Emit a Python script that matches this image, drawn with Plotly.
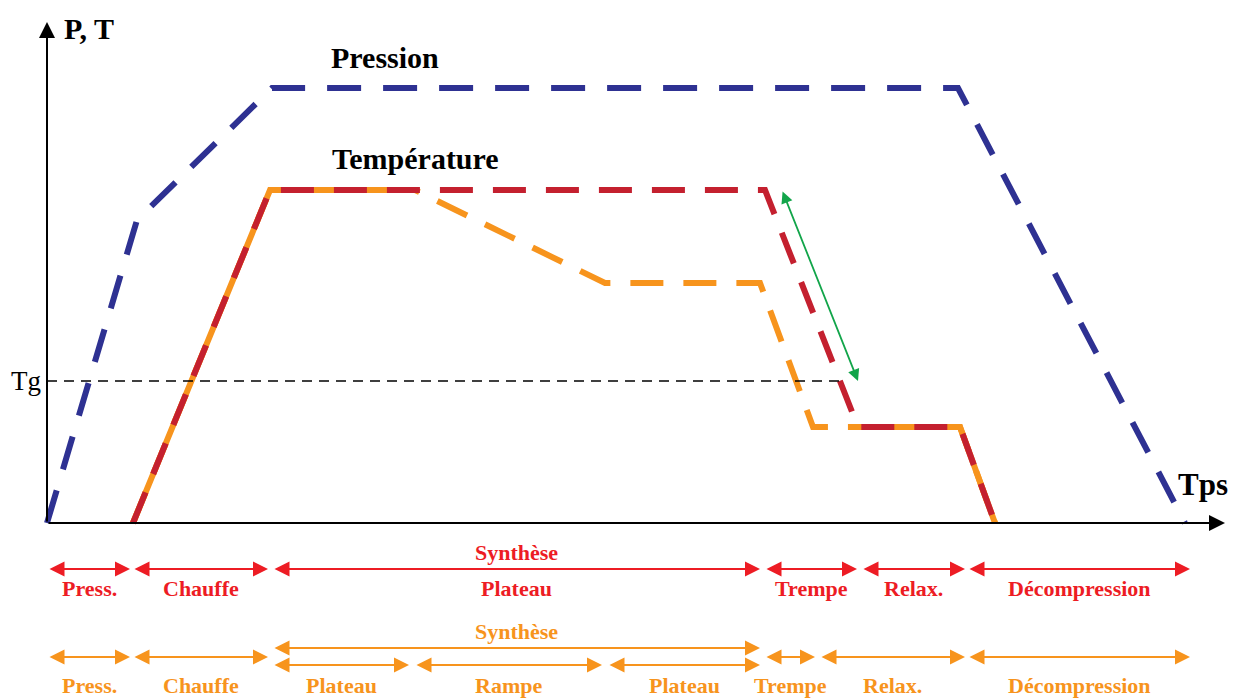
import plotly.graph_objects as go

# ---- data (time in arbitrary units, value in arbitrary units) ----
p_t = [0, 90, 225, 911, 1138]
p_v = [0, 303, 435, 435, 0]

red_t = [86, 223, 718, 811, 913, 948]
red_v = [0, 333, 333, 96, 96, 0]

ora_t = [86, 223, 368, 558, 713, 766, 913, 948]
ora_v = [0, 333, 333, 240, 240, 96, 96, 0]

ora_shared1_t = [86, 223, 368]
ora_shared1_v = [0, 333, 333]
ora_shared2_t = [811, 913, 948]
ora_shared2_v = [96, 96, 0]

tg_value = 142
tg_end = 793

green_start = (735, 333)
green_end = (811, 142)

red_phases = [(1, 83, "Press."), (86, 221, "Chauffe"), (226, 713, "Plateau"),
              (718, 810, "Trempe"), (815, 918, "Relax."), (921, 1143, "Décompression")]
red_synth = (226, 713, "Synthèse")

ora_phases = [(1, 83, "Press."), (86, 221, "Chauffe"), (718, 768, "Trempe"),
              (773, 918, "Relax."), (921, 1143, "Décompression")]
ora_sub = [(226, 362, "Plateau"), (368, 555, "Rampe"), (561, 713, "Plateau")]
ora_synth = (226, 713, "Synthèse")

BLUE = "#2e3192"
DRED = "#c4202f"
ORANGE = "#f7941d"
RED = "#ed1c24"
GREEN = "#12a54a"
FONT = "Liberation Serif"

fig = go.Figure()

fig.add_trace(go.Scatter(x=p_t, y=p_v, mode="lines",
                         line=dict(color=BLUE, width=6, dash="34px,22px")))
fig.add_trace(go.Scatter(x=ora_t, y=ora_v, mode="lines",
                         line=dict(color=ORANGE, width=6, dash="33px,20px")))
for tt, vv in [(ora_shared1_t, ora_shared1_v), (ora_shared2_t, ora_shared2_v)]:
    fig.add_trace(go.Scatter(x=tt, y=vv, mode="lines",
                             line=dict(color=ORANGE, width=6)))
fig.add_trace(go.Scatter(x=red_t, y=red_v, mode="lines",
                         line=dict(color=DRED, width=6, dash="33px,20px")))
fig.add_trace(go.Scatter(x=[0, tg_end], y=[tg_value, tg_value], mode="lines",
                         line=dict(color="black", width=1.5, dash="10px,7px")))

ann = []

def arrow(x0, x1, y, color, width=2, size=1.5):
    ann.append(dict(x=x1, y=y, ax=x0, ay=y, xref="x", yref="y", axref="x", ayref="y",
                    text="", showarrow=True, arrowhead=2, arrowsize=size,
                    arrowwidth=width, arrowcolor=color,
                    arrowside="end+start", startarrowhead=2,
                    startarrowsize=size, standoff=0, startstandoff=0))

def label(x, y, txt, color, size=22):
    ann.append(dict(x=x, y=y, xref="x", yref="y", text="<b>%s</b>" % txt, showarrow=False,
                    font=dict(family=FONT, size=size, color=color)))

# axes
ann.append(dict(x=0, y=501, ax=0, ay=0, xref="x", yref="y", axref="x", ayref="y",
                text="", showarrow=True, arrowhead=2, arrowsize=1.6, arrowwidth=2,
                arrowcolor="black", standoff=0))
ann.append(dict(x=1178, y=0, ax=0, ay=0, xref="x", yref="y", axref="x", ayref="y",
                text="", showarrow=True, arrowhead=2, arrowsize=1.6, arrowwidth=2,
                arrowcolor="black", standoff=0))

# green arrow
ann.append(dict(x=green_end[0], y=green_end[1], ax=green_start[0], ay=green_start[1],
                xref="x", yref="y", axref="x", ayref="y", text="", showarrow=True,
                arrowhead=2, arrowsize=1.3, arrowwidth=1.8, arrowcolor=GREEN,
                arrowside="end+start", startarrowhead=2, startarrowsize=1.3,
                standoff=0, startstandoff=0))

# red row
for a, b, txt in red_phases:
    arrow(a, b, -46, RED)
    label((a + b) / 2, -65, txt, RED)
label((red_synth[0] + red_synth[1]) / 2, -29, red_synth[2], RED)

# orange row
for a, b, txt in ora_phases:
    arrow(a, b, -134, ORANGE)
    label((a + b) / 2, -162, txt, ORANGE)
arrow(ora_synth[0], ora_synth[1], -125, ORANGE)
label((ora_synth[0] + ora_synth[1]) / 2, -108, ora_synth[2], ORANGE)
for a, b, txt in ora_sub:
    arrow(a, b, -142, ORANGE)
    label((a + b) / 2, -162, txt, ORANGE)

# titles
label(42, 495, "P, T", "black", 30)
label(338, 466, "Pression", "black", 30)
label(368, 365, "Température", "black", 30)
label(1156, 39, "Tps", "black", 31)
ann.append(dict(x=-4, y=tg_value, xref="x", yref="y", text="Tg", showarrow=False,
                xanchor="right", font=dict(family=FONT, size=27, color="black")))

fig.update_layout(
    width=1235, height=698, margin=dict(l=0, r=0, t=0, b=0),
    plot_bgcolor="white", paper_bgcolor="white", showlegend=False,
    xaxis=dict(range=[-47, 1188], visible=False, fixedrange=True),
    yaxis=dict(range=[-175, 523], visible=False, fixedrange=True),
    annotations=ann,
)

fig.write_html("out.html", config={"displayModeBar": False},
               post_script="document.body.style.margin='0px';document.body.style.overflow='hidden';")
